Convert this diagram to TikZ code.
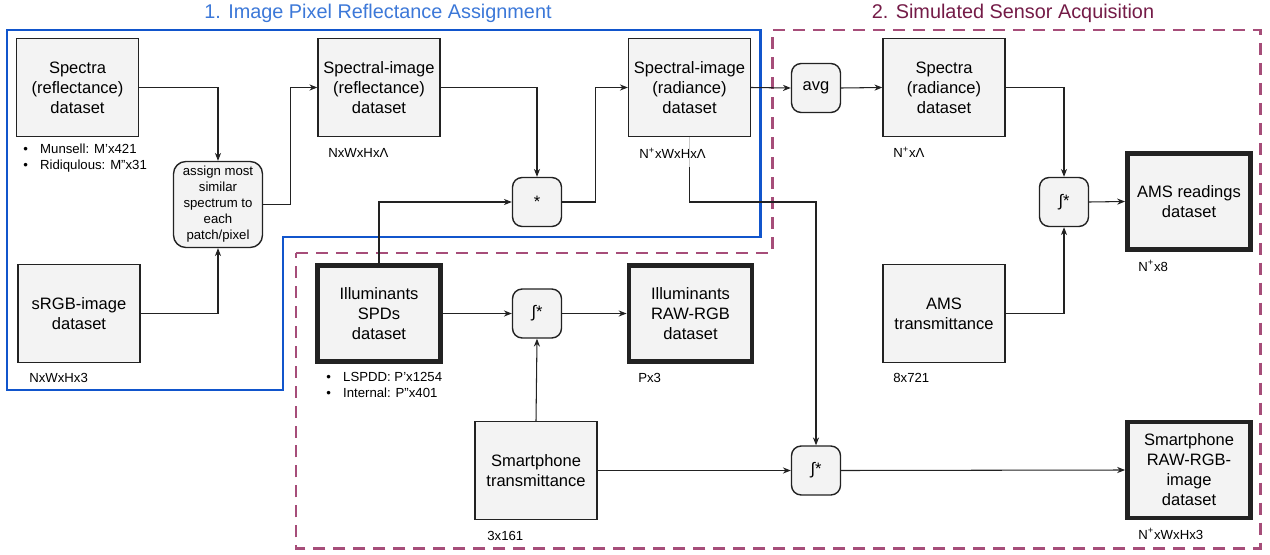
\documentclass[tikz,border=0pt]{standalone}
\usepackage{fontspec}
\setmainfont{Liberation Sans}
\usetikzlibrary{arrows.meta}
\definecolor{boxgray}{HTML}{F3F3F3}
\definecolor{edgegray}{HTML}{222222}
\definecolor{frameblue}{HTML}{1155CC}
\definecolor{titleblue}{HTML}{3C78D8}
\definecolor{framepink}{HTML}{A64D79}
\definecolor{titlepink}{HTML}{741B47}
\newcommand{\bul}{\makebox[9.6pt][l]{•}}

\begin{document}
\begin{tikzpicture}[x=0.02cm, y=-0.02cm, font=\fontsize{9.4}{11.4}\selectfont,
    data/.style={draw=edgegray, fill=boxgray, line width=0.8pt, minimum width=2.44cm, minimum height=1.96cm, align=center, inner sep=2pt},
    result/.style={data, line width=2.8pt, minimum width=2.46cm, minimum height=1.92cm},
    op/.style={draw=edgegray, fill=boxgray, line width=0.8pt, rounded corners=5.5pt, minimum width=0.98cm, minimum height=0.98cm, align=center, inner sep=1pt},
    dims/.style={anchor=west, font=\fontsize{7.5}{9.1}\selectfont, align=left, inner sep=0pt},
    arr/.style={-{Stealth[length=4.5pt, width=3.5pt]}, line width=0.6pt, draw=edgegray},
    title/.style={font=\fontsize{11.3}{13}\selectfont, inner sep=0pt}]
    \useasboundingbox (0,0) rectangle (1270,554);

    \draw[frameblue, line width=1.7pt, line join=miter] (7,30) -- (760,30) -- (760,237) -- (283,237) -- (283,390) -- (7,390) -- cycle;
    \draw[framepink, line width=1.7pt, dash pattern=on 0.24cm off 0.16cm] (296,253) -- (772,253) -- (772,30) -- (1260,30) -- (1260,548) -- (296,548) -- cycle;
    \node[title, titleblue] (titleA) at (378,13) {1. Image Pixel Reflectance Assignment};
    \node[title, titlepink] (titleB) at (1013,13) {2. Simulated Sensor Acquisition};

    \node[data] (spr) at (77.5,87.5) {Spectra\\(reflectance)\\dataset};
    \node[data] (srgb) at (79,313.5) {sRGB-image\\dataset};
    \node[op, rounded corners=7pt, minimum width=1.78cm, minimum height=1.72cm, font=\fontsize{7.5}{9.1}\selectfont] (assign) at (218,204.5) {assign most\\similar\\spectrum to\\each\\patch/pixel};
    \node[data] (sir) at (379,87.5) {Spectral-image\\(reflectance)\\dataset};
    \node[data] (sra) at (689.5,87.5) {Spectral-image\\(radiance)\\dataset};
    \node[op] (mul) at (537,202) {*};
    \node[op] (avg) at (816,88) {avg};
    \node[data] (sprad) at (944,87.5) {Spectra\\(radiance)\\dataset};
    \node[op] (intA) at (1064,202) {∫*};
    \node[result] (ams) at (1189,201.5) {AMS readings\\dataset};
    \node[data] (amst) at (944,313.5) {AMS\\transmittance};
    \node[result] (ill) at (379,313.5) {Illuminants\\SPDs\\dataset};
    \node[op] (intB) at (537,313.5) {∫*};
    \node[result] (illraw) at (690.5,313.5) {Illuminants\\RAW-RGB\\dataset};
    \node[data] (smt) at (536,470.5) {Smartphone\\transmittance};
    \node[op] (intC) at (816,470.5) {∫*};
    \node[result] (smraw) at (1189,470) {Smartphone\\RAW-RGB-\\image\\dataset};

    \node[dims] (sprdim) at (23,158) {\bul Munsell: M’x421\\\bul Ridiqulous: M”x31};
    \node[dims] (srgbdim) at (29,378) {NxWxHx3};
    \node[dims] (sirdim) at (328,153) {NxWxHxΛ};
    \node[dims] (sradim) at (639,153) {N\textsuperscript{+}xWxHxΛ};
    \node[dims] (spraddim) at (893,152) {N\textsuperscript{+}xΛ};
    \node[dims] (amsdim) at (1138,266) {N\textsuperscript{+}x8};
    \node[dims] (amstdim) at (893,378) {8x721};
    \node[dims] (illdim) at (326,385) {\bul LSPDD: P’x1254\\\bul Internal: P”x401};
    \node[dims] (illrawdim) at (638,378) {Px3};
    \node[dims] (smtdim) at (487,536) {3x161};
    \node[dims] (smrawdim) at (1138,534) {N\textsuperscript{+}xWxHx3};

    \draw[arr] (spr.east) -| (assign.north);
    \draw[arr] (srgb.east) -| (assign.south);
    \draw[arr] (assign.east) -- ++(27,0) |- (sir.west);
    \draw[arr] (sir.east) -| (mul.north);
    \draw[arr] (ill.north) |- (mul.west);
    \draw[arr] (mul.east) -- ++(33,0) |- (sra.west);
    \draw[arr] (sra.east) -- (avg.west);
    \draw[arr] (avg.east) -- (sprad.west);
    \draw[arr] (sprad.east) -| (intA.north);
    \draw[arr] (amst.east) -| (intA.south);
    \draw[arr] (intA.east) -- (ams.west);
    \coordinate (radtap) at (689.5,167);
    \draw[line width=0.6pt, black!20] (sra.south) -- (radtap);
    \draw[arr] (radtap) -- (689.5,202) -| (intC.north);
    \draw[arr] (ill.east) -- (intB.west);
    \draw[arr] (intB.east) -- (illraw.west);
    \draw[arr] (smt.north) -- (intB.south);
    \draw[arr] (smt.east) -- (intC.west);
    \draw[arr] (intC.east) -- (smraw.west);
\end{tikzpicture}
\end{document}
